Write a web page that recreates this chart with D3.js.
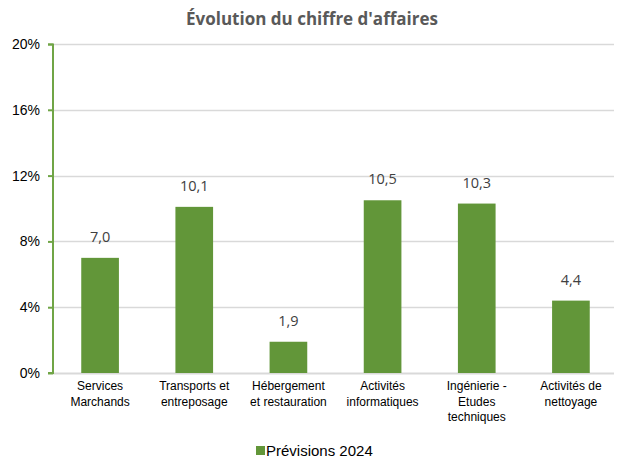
<!DOCTYPE html>
<html>
<head>
<meta charset="utf-8">
<script src="https://cdn.jsdelivr.net/npm/d3@7"></script>
<style>
  body { margin: 0; background: #fff; }
  svg { display: block; }
</style>
</head>
<body>
<div id="chart"></div>
<script>
// Évolution du chiffre d'affaires — bar chart, one series

const categories = [
  ['Services', 'Marchands'],
  ['Transports et', 'entreposage'],
  ['Hébergement', 'et restauration'],
  ['Activités', 'informatiques'],
  ['Ingénierie -', 'Etudes', 'techniques'],
  ['Activités de', 'nettoyage'],
];
const values = [7.0, 10.1, 1.9, 10.5, 10.3, 4.4];
const yTickValues = [0, 4, 8, 12, 16, 20];
const seriesName = 'Prévisions 2024';
const title = "Évolution du chiffre d'affaires";

const W = 618, H = 462;
const margin = { top: 44, right: 0, bottom: 89, left: 53 };
const innerW = W - margin.left - margin.right;
const innerH = H - margin.top - margin.bottom;

const barColor  = '#629639';
const axisColor = '#70a546';
const gridColor = '#d9d9d9';

const svg = d3.select('#chart').append('svg')
  .attr('width', W)
  .attr('height', H);

svg.append('text')
  .attr('x', 312)
  .attr('y', 25)
  .attr('text-anchor', 'middle')
  .attr('font-family', '"Open Sans", "Noto Sans", sans-serif')
  .attr('font-weight', 'bold')
  .attr('font-size', 17)
  .attr('fill', '#595959')
  .text(title);

const g = svg.append('g').attr('transform', `translate(${margin.left},${margin.top})`);

const x = d3.scaleBand()
  .domain(d3.range(values.length))
  .range([0, innerW])
  .paddingInner(0.6)
  .paddingOuter(0.3);

const y = d3.scaleLinear()
  .domain([0, 20])
  .range([innerH, 0]);

// Grid
g.append('g')
  .selectAll('line')
  .data(yTickValues)
  .join('line')
  .attr('x1', 0)
  .attr('x2', innerW - 4)
  .attr('y1', d => Math.round(y(d)) + 0.5)
  .attr('y2', d => Math.round(y(d)) + 0.5)
  .attr('stroke', gridColor)
  .attr('stroke-width', d => d === 0 ? 2 : 1.3);

// Bars
g.append('g')
  .selectAll('rect')
  .data(values)
  .join('rect')
  .attr('x', (d, i) => x(i))
  .attr('y', d => y(d))
  .attr('width', x.bandwidth())
  .attr('height', d => innerH - y(d))
  .attr('fill', barColor);

// Value labels
g.append('g')
  .selectAll('text')
  .data(values)
  .join('text')
  .attr('x', (d, i) => x(i) + x.bandwidth() / 2)
  .attr('y', d => y(d) - 16)
  .attr('text-anchor', 'middle')
  .attr('font-family', '"Open Sans", "Noto Sans", sans-serif')
  .attr('font-size', 14.5)
  .attr('fill', '#404040')
  .text(d => d.toFixed(1).replace('.', ','));

// Y axis
const yAxis = g.append('g')
  .call(d3.axisLeft(y)
    .tickValues(yTickValues)
    .tickSize(5)
    .tickPadding(8)
    .tickFormat(d => d + '%'));
yAxis.select('.domain')
  .attr('stroke', axisColor)
  .attr('stroke-width', 2)
  .attr('d', `M-5,0.5H0V${innerH}H-5`);
yAxis.selectAll('.tick line')
  .attr('stroke', axisColor)
  .attr('stroke-width', 2);
yAxis.selectAll('.tick text')
  .attr('font-family', '"Liberation Sans", Arial, sans-serif')
  .attr('font-size', 14)
  .attr('fill', '#000');

// Category labels
const catG = g.append('g')
  .attr('transform', `translate(0,${innerH})`)
  .selectAll('text')
  .data(categories)
  .join('text')
  .attr('x', (d, i) => x(i) + x.bandwidth() / 2)
  .attr('y', 17)
  .attr('text-anchor', 'middle')
  .attr('font-family', '"Liberation Sans", Arial, sans-serif')
  .attr('font-size', 12)
  .attr('fill', '#000');
catG.selectAll('tspan')
  .data(d => d)
  .join('tspan')
  .attr('x', function () { return d3.select(this.parentNode).attr('x'); })
  .attr('dy', (d, i) => i === 0 ? 0 : 15.5)
  .text(d => d);

// Legend
const leg = svg.append('g').attr('transform', 'translate(256,451)');
leg.append('rect')
  .attr('x', 0).attr('y', -5)
  .attr('width', 9).attr('height', 9)
  .attr('fill', barColor);
leg.append('text')
  .attr('x', 10)
  .attr('y', 5)
  .attr('font-family', '"Liberation Sans", Arial, sans-serif')
  .attr('font-size', 15)
  .attr('fill', '#000')
  .text(seriesName);
</script>
</body>
</html>
